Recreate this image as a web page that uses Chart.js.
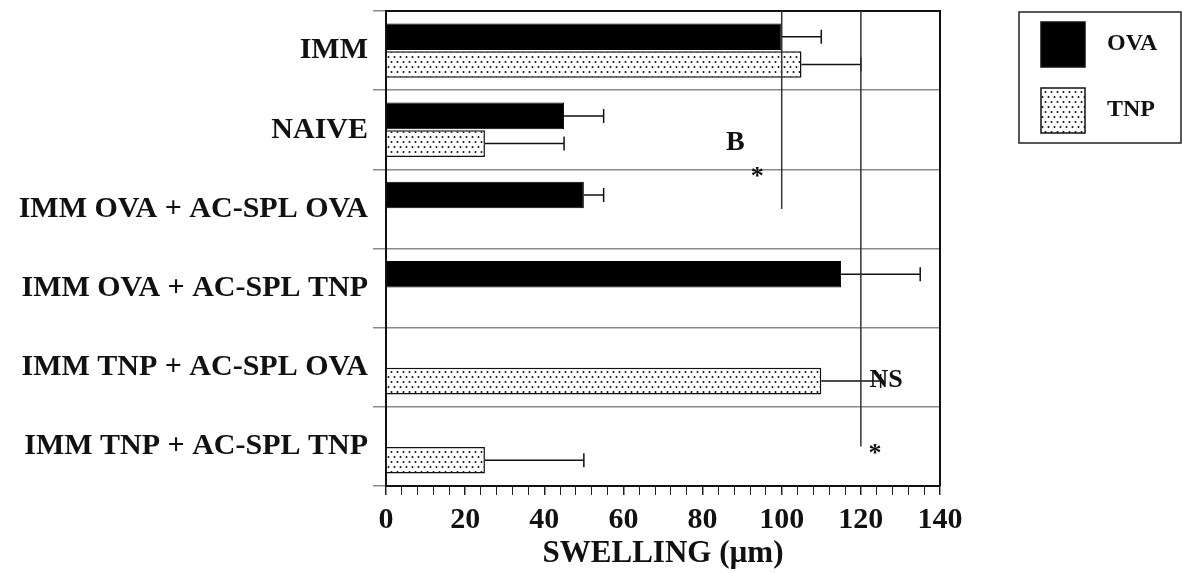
<!DOCTYPE html>
<html>
<head>
<meta charset="utf-8">
<script src="https://cdn.jsdelivr.net/npm/chart.js@4"></script>
<style>
  html, body { margin: 0; padding: 0; background: #fff; }
  #wrap { width: 1182px; height: 573px; }
</style>
</head>
<body>
<div id="wrap"><canvas id="myChart"></canvas></div>
<script>
// datos
const categorias = ['IMM', 'NAIVE', 'IMM OVA + AC-SPL OVA', 'IMM OVA + AC-SPL TNP', 'IMM TNP + AC-SPL OVA', 'IMM TNP + AC-SPL TNP'];
const ova = [100, 45, 50, 115, null, null];
const ovaErr = [10, 10, 5, 20, null, null];
const tnp = [105, 25, null, null, 110, 25];
const tnpErr = [15, 20, null, null, 15, 25];
const xTicks = [0, 20, 40, 60, 80, 100, 120, 140];

// lineas de significancia: valor x, hasta la categoria
const brackets = [
  { x: 100, toCat: 2 },
  { x: 120, toCat: 5 }
];
const marcas = [
  { text: 'B', x: 88.3, y: 1.17, size: 28 },
  { text: '*', x: 93.8, y: 1.6, size: 26 },
  { text: 'NS', x: 126.4, y: 4.16, size: 26 },
  { text: '*', x: 123.6, y: 5.1, size: 26 }
];

const serif = "'Liberation Serif', 'Times New Roman', serif";

// patron punteado para TNP
function puntos() {
  const c = document.createElement('canvas');
  c.width = 6; c.height = 10;
  const g = c.getContext('2d');
  g.fillStyle = '#fff';
  g.fillRect(0, 0, 6, 10);
  g.fillStyle = '#111';
  g.beginPath();
  g.arc(1.5, 2, 1, 0, Math.PI * 2);
  g.arc(4.5, 7, 1, 0, Math.PI * 2);
  g.fill();
  return g.createPattern(c, 'repeat');
}
const ctx = document.getElementById('myChart').getContext('2d');
const patron = puntos();

// barras de error
const errorBars = {
  id: 'errorBars',
  afterDatasetsDraw(chart) {
    const g = chart.ctx;
    const xs = chart.scales.x;
    const errs = [ovaErr, tnpErr];
    g.save();
    g.strokeStyle = '#111';
    g.lineWidth = 1.5;
    chart.data.datasets.forEach((ds, di) => {
      const meta = chart.getDatasetMeta(di);
      meta.data.forEach((bar, i) => {
        const v = ds.data[i];
        const e = errs[di][i];
        if (v == null || e == null) return;
        const x2 = xs.getPixelForValue(v + e);
        g.beginPath();
        g.moveTo(bar.x, bar.y);
        g.lineTo(x2, bar.y);
        g.moveTo(x2, bar.y - 7);
        g.lineTo(x2, bar.y + 7);
        g.stroke();
      });
    });
    g.restore();
  }
};

// marco, corchetes, textos y leyenda
const extras = {
  id: 'extras',
  afterDraw(chart) {
    const g = chart.ctx;
    const a = chart.chartArea;
    const xs = chart.scales.x, ys = chart.scales.y;
    g.save();
    // marco superior y derecho
    g.strokeStyle = '#111';
    g.lineWidth = 2;
    g.beginPath();
    g.moveTo(a.left, a.top);
    g.lineTo(a.right, a.top);
    g.lineTo(a.right, a.bottom);
    g.stroke();
    // lineas verticales
    g.strokeStyle = '#333';
    g.lineWidth = 1.5;
    brackets.forEach(b => {
      const x = xs.getPixelForValue(b.x);
      g.beginPath();
      g.moveTo(x, a.top);
      g.lineTo(x, ys.getPixelForValue(b.toCat));
      g.stroke();
    });
    // textos
    g.fillStyle = '#111';
    g.textAlign = 'center';
    g.textBaseline = 'middle';
    marcas.forEach(m => {
      g.font = 'bold ' + m.size + 'px ' + serif;
      g.fillText(m.text, xs.getPixelForValue(m.x), ys.getPixelForValue(m.y));
    });
    // leyenda
    const lx = a.right + 79, ly = 12;
    g.strokeStyle = '#222';
    g.lineWidth = 1.5;
    g.strokeRect(lx, ly, 162, 131);
    const items = chart.data.datasets;
    g.textAlign = 'left';
    g.font = 'bold 24px ' + serif;
    items.forEach((ds, i) => {
      const sy = ly + 10 + i * 66;
      g.fillStyle = ds.backgroundColor;
      g.fillRect(lx + 22, sy, 44, 45);
      g.strokeStyle = '#111';
      g.lineWidth = 1.5;
      g.strokeRect(lx + 22, sy, 44, 45);
      g.fillStyle = '#111';
      g.fillText(ds.label, lx + 88, sy + 22);
    });
    g.restore();
  }
};

const myChart = new Chart(ctx, {
  type: 'bar',
  data: {
    labels: categorias,
    datasets: [{
      label: 'OVA',
      data: ova,
      backgroundColor: '#000',
      borderColor: '#000',
      borderWidth: 1,
      barPercentage: 0.96,
      categoryPercentage: 0.7
    }, {
      label: 'TNP',
      data: tnp,
      backgroundColor: patron,
      borderColor: '#111',
      borderWidth: 1.5,
      barPercentage: 0.96,
      categoryPercentage: 0.7
    }]
  },
  options: {
    indexAxis: 'y',
    responsive: true,
    maintainAspectRatio: false,
    animation: false,
    layout: { padding: { top: 11, right: 242, left: 0, bottom: 0 } },
    plugins: {
      legend: { display: false },
      tooltip: { enabled: false }
    },
    scales: {
      x: {
        min: 0,
        max: 140,
        afterFit(scale) { scale.height = 87; },
        ticks: {
          stepSize: 4,
          autoSkip: false,
          maxRotation: 0,
          padding: 7,
          color: '#111',
          font: { family: serif, size: 30, weight: 'bold' },
          callback: v => xTicks.includes(v) ? v : ''
        },
        grid: {
          drawOnChartArea: false,
          tickLength: 9,
          color: '#222',
          lineWidth: c => (c.tick && xTicks.includes(c.tick.value)) ? 1.5 : 1
        },
        border: { display: true, color: '#111', width: 2 },
        title: {
          display: true,
          text: 'SWELLING (µm)',
          color: '#111',
          font: { family: serif, size: 31, weight: 'bold' },
          padding: { top: 0, bottom: 0 }
        }
      },
      y: {
        afterFit(scale) {
          scale.width = 386;
          scale.paddingTop = 0;
          scale.paddingBottom = 0;
        },
        ticks: {
          padding: 5,
          color: '#111',
          font: { family: serif, size: 30, weight: 'bold' }
        },
        grid: {
          offset: true,
          color: '#8a8a8a',
          lineWidth: 1.5,
          tickLength: 13
        },
        border: { display: true, color: '#111', width: 2 }
      }
    }
  },
  plugins: [errorBars, extras]
});
</script>
</body>
</html>
